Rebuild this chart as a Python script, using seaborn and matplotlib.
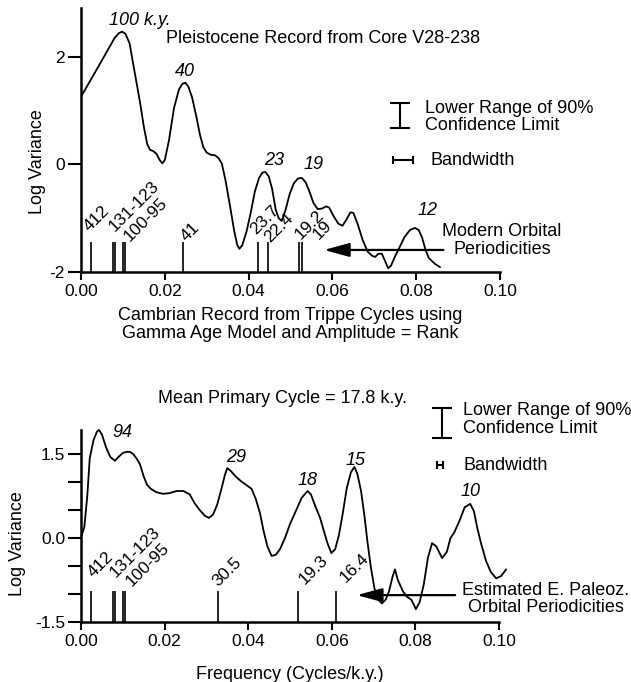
import numpy as np
import pandas as pd
import matplotlib
matplotlib.use("Agg")
import matplotlib.pyplot as plt
import seaborn as sns

# ---------------- data ----------------
# Pleistocene (Core V28-238) spectrum
pleist_freq = [0.0000, 0.0040, 0.0080, 0.0090, 0.0098, 0.0106, 0.0116, 0.0125, 0.0133, 0.0141,
               0.0150, 0.0158, 0.0165, 0.0172, 0.0180, 0.0188, 0.0194, 0.0200, 0.0210, 0.0222,
               0.0234, 0.0242, 0.0249, 0.0256, 0.0265, 0.0275, 0.0284, 0.0292, 0.0300, 0.0310,
               0.0320, 0.0328, 0.0336, 0.0345, 0.0356, 0.0366, 0.0373, 0.0378, 0.0385, 0.0395,
               0.0405, 0.0415, 0.0425, 0.0433, 0.0440, 0.0448, 0.0456, 0.0465, 0.0472, 0.0479,
               0.0488, 0.0498, 0.0508, 0.0518, 0.0527, 0.0536, 0.0545, 0.0555, 0.0565, 0.0575,
               0.0585, 0.0592, 0.0602, 0.0614, 0.0624, 0.0634, 0.0643, 0.0650, 0.0660, 0.0672,
               0.0684, 0.0695, 0.0702, 0.0710, 0.0718, 0.0726, 0.0733, 0.0740, 0.0750, 0.0761,
               0.0772, 0.0785, 0.0797, 0.0806, 0.0814, 0.0822, 0.0830, 0.0845, 0.0857]
pleist_logvar = [1.26, 1.80, 2.35, 2.44, 2.47, 2.43, 2.25, 1.85, 1.50, 1.15,
                 0.70, 0.38, 0.27, 0.25, 0.20, 0.08, 0.02, 0.08, 0.45, 1.05,
                 1.40, 1.50, 1.52, 1.45, 1.25, 0.90, 0.55, 0.32, 0.22, 0.18,
                 0.17, 0.12, 0.02, -0.30, -0.79, -1.25, -1.50, -1.57, -1.50, -1.25,
                 -0.90, -0.50, -0.25, -0.15, -0.14, -0.22, -0.45, -0.85, -1.00, -1.05,
                 -0.85, -0.55, -0.35, -0.26, -0.25, -0.33, -0.50, -0.72, -0.83, -0.82,
                 -0.78, -0.80, -0.95, -1.10, -1.14, -1.02, -0.89, -0.90, -1.10, -1.40,
                 -1.62, -1.70, -1.72, -1.66, -1.66, -1.80, -1.93, -1.88, -1.70, -1.53,
                 -1.35, -1.22, -1.18, -1.22, -1.36, -1.58, -1.74, -1.85, -1.91]

# Cambrian (Trippe cycles) spectrum
camb_freq = [0.0000, 0.0008, 0.0015, 0.0021, 0.0030, 0.0038, 0.0043, 0.0050, 0.0060, 0.0070,
             0.0081, 0.0090, 0.0100, 0.0110, 0.0117, 0.0125, 0.0133, 0.0141, 0.0150, 0.0158,
             0.0167, 0.0180, 0.0196, 0.0210, 0.0229, 0.0245, 0.0260, 0.0272, 0.0284, 0.0296,
             0.0306, 0.0316, 0.0326, 0.0336, 0.0344, 0.0350, 0.0358, 0.0370, 0.0382, 0.0395,
             0.0408, 0.0418, 0.0428, 0.0437, 0.0446, 0.0456, 0.0466, 0.0476, 0.0488, 0.0500,
             0.0515, 0.0528, 0.0542, 0.0550, 0.0560, 0.0572, 0.0582, 0.0590, 0.0599, 0.0608,
             0.0617, 0.0626, 0.0636, 0.0646, 0.0654, 0.0661, 0.0670, 0.0678, 0.0685, 0.0693,
             0.0702, 0.0711, 0.0720, 0.0729, 0.0737, 0.0745, 0.0751, 0.0758, 0.0770, 0.0780,
             0.0790, 0.0797, 0.0801, 0.0810, 0.0820, 0.0830, 0.0840, 0.0850, 0.0864, 0.0875,
             0.0884, 0.0893, 0.0905, 0.0918, 0.0931, 0.0940, 0.0948, 0.0958, 0.0969, 0.0980,
             0.0993, 0.1005, 0.1017]
camb_logvar = [0.00, 0.20, 0.75, 1.43, 1.75, 1.90, 1.93, 1.85, 1.62, 1.45,
               1.38, 1.45, 1.52, 1.54, 1.54, 1.50, 1.42, 1.32, 1.10, 0.95,
               0.88, 0.82, 0.79, 0.80, 0.84, 0.84, 0.78, 0.62, 0.50, 0.40,
               0.36, 0.42, 0.60, 0.88, 1.12, 1.25, 1.20, 1.10, 1.02, 0.95,
               0.88, 0.70, 0.45, 0.12, -0.15, -0.32, -0.30, -0.20, 0.00, 0.25,
               0.50, 0.72, 0.84, 0.78, 0.58, 0.36, 0.10, -0.10, -0.27, -0.20,
               0.05, 0.43, 0.90, 1.18, 1.27, 1.15, 0.84, 0.40, -0.05, -0.50,
               -0.90, -1.10, -1.17, -1.10, -0.95, -0.70, -0.56, -0.75, -0.95, -1.05,
               -1.10, -1.20, -1.27, -1.15, -0.83, -0.35, -0.09, -0.15, -0.36, -0.25,
               0.00, 0.10, 0.30, 0.55, 0.61, 0.48, 0.18, -0.12, -0.41, -0.60,
               -0.72, -0.68, -0.56]

# orbital periodicities (k.y.)
modern_periods = [412, 131, 123, 100, 95, 41, 23.7, 22.4, 19.2, 19]
modern_labels = ["412", "131-123", "100-95", "41", "23.7", "22.4", "19.2", "19"]
modern_label_x = [0.0026, 0.0086, 0.0120, 0.0258, 0.0422, 0.0457, 0.0530, 0.0572]
modern_label_y = [-1.30, -1.30, -1.48, -1.48, -1.35, -1.50, -1.45, -1.45]

paleoz_periods = [412, 131, 123, 100, 95, 30.5, 19.3, 16.4]
paleoz_labels = ["412", "131-123", "100-95", "30.5", "19.3", "16.4"]
paleoz_label_x = [0.0036, 0.0088, 0.0126, 0.0333, 0.0540, 0.0638]
paleoz_label_y = [-0.75, -0.75, -0.92, -0.92, -0.88, -0.85]

# peak period annotations
top_peak_labels = ["100 k.y.", "40", "23", "19", "12"]
top_peak_x = [0.0140, 0.0248, 0.0460, 0.0554, 0.0826]
top_peak_y = [2.68, 1.72, 0.07, 0.00, -0.86]

bot_peak_labels = ["94", "29", "18", "15", "10"]
bot_peak_x = [0.0100, 0.0371, 0.0543, 0.0656, 0.0931]
bot_peak_y = [1.88, 1.43, 1.02, 1.38, 0.84]

# ---------------- style ----------------
sns.set_theme(style="ticks")
plt.rcParams["font.family"] = ["Liberation Sans", "DejaVu Sans"]
plt.rcParams["axes.unicode_minus"] = False
FS = 13

fig = plt.figure(figsize=(6.31, 6.82), dpi=100)
W, H = 631, 682
ax1 = fig.add_axes([81 / W, (H - 272) / H, 419 / W, 264 / H])
ax2 = fig.add_axes([81 / W, (H - 622) / H, 418 / W, 192 / H])

df_top = pd.DataFrame({"freq": pleist_freq, "logvar": pleist_logvar})
df_bot = pd.DataFrame({"freq": camb_freq, "logvar": camb_logvar})

sns.lineplot(data=df_top, x="freq", y="logvar", ax=ax1, color="black", lw=1.3)
sns.lineplot(data=df_bot, x="freq", y="logvar", ax=ax2, color="black", lw=1.3)
for ln in ax2.get_lines():
    ln.set_clip_on(False)

for ax in (ax1, ax2):
    sns.despine(ax=ax)
    for s in ("left", "bottom"):
        ax.spines[s].set_linewidth(1.8)
        ax.spines[s].set_color("black")
    ax.set_xlim(0, 0.10)
    ax.set_xticks([0, 0.02, 0.04, 0.06, 0.08, 0.10])
    ax.set_xticklabels(["0.00", "0.02", "0.04", "0.06", "0.08", "0.10"])
    ax.tick_params(axis="x", direction="out", length=6, width=1.5, pad=3,
                   labelsize=12.5, color="black", labelcolor="black")
    ax.tick_params(axis="y", direction="out", length=9.5, width=1.5, pad=2,
                   labelsize=12.5, color="black", labelcolor="black")
    ax.set_ylabel("Log Variance", fontsize=FS, color="black")
    ax.yaxis.label.set_va("center")
    ax.grid(False)
    ax.set_facecolor("white")

# top axes
ax1.set_ylim(-2, 2.91)
ax1.set_yticks([-2, 0, 2])
ax1.set_yticklabels(["-2", "0", "2"])
ax1.yaxis.set_label_coords(-0.105, 0.417)
ax1.set_xlabel("Cambrian Record from Trippe Cycles using\nGamma Age Model and Amplitude = Rank",
               fontsize=FS, color="black", linespacing=1.05)
ax1.xaxis.label.set_va("center")
ax1.xaxis.set_label_coords(0.5, -0.20)

# bottom axes
ax2.set_ylim(-1.5, 1.93)
ax2.set_yticks([-1.5, -1.0, -0.5, 0.0, 0.5, 1.0, 1.5])
ax2.set_yticklabels(["-1.5", "", "", "0.0", "", "", "1.5"])
ax2.yaxis.set_label_coords(-0.153, 0.406)
ax2.set_xlabel("Frequency (Cycles/k.y.)", fontsize=FS, color="black")
ax2.xaxis.label.set_va("center")
ax2.xaxis.set_label_coords(0.5, -0.276)

# periodicity lines
modern_freq = [1.0 / p for p in modern_periods]
paleoz_freq = [1.0 / p for p in paleoz_periods]
ax1.vlines(modern_freq, -2, -1.44, color="black", lw=1.2)
ax2.vlines(paleoz_freq, -1.5, -0.95, color="black", lw=1.2)

for lab, x, y in zip(modern_labels, modern_label_x, modern_label_y):
    ax1.text(x, y, lab, rotation=45, rotation_mode="anchor", ha="left", va="bottom",
             fontsize=12.5, color="black")
for lab, x, y in zip(paleoz_labels, paleoz_label_x, paleoz_label_y):
    ax2.text(x, y, lab, rotation=45, rotation_mode="anchor", ha="left", va="bottom",
             fontsize=12.5, color="black", clip_on=False)

for lab, x, y in zip(top_peak_labels, top_peak_x, top_peak_y):
    ax1.text(x, y, lab, style="italic", ha="center", va="center", fontsize=FS, color="black",
             clip_on=False)
for lab, x, y in zip(bot_peak_labels, bot_peak_x, bot_peak_y):
    ax2.text(x, y, lab, style="italic", ha="center", va="center", fontsize=FS, color="black",
             clip_on=False)

# titles / annotations
ax1.text(0.0203, 2.35, "Pleistocene Record from Core V28-238", ha="left", va="center",
         fontsize=FS, color="black")
ax2.text(0.0481, 2.50, "Mean Primary Cycle = 17.8 k.y.", ha="center", va="center",
         fontsize=FS, color="black", clip_on=False)

arrow_kw = dict(arrowstyle="-|>,head_length=1.1,head_width=0.3", lw=1.6, color="black",
                mutation_scale=14, shrinkA=0, shrinkB=0)
ax1.annotate("", xy=(0.0580, -1.59), xytext=(0.0865, -1.59), arrowprops=arrow_kw)
ax1.text(0.1005, -1.42, "Modern Orbital\nPeriodicities", ha="center", va="center",
         fontsize=FS, color="black", linespacing=1.05, clip_on=False)
ax2.annotate("", xy=(0.0660, -1.02), xytext=(0.0895, -1.02), arrowprops=arrow_kw,
             annotation_clip=False)
ax2.text(0.1112, -1.09, "Estimated E. Paleoz.\nOrbital Periodicities", ha="center",
         va="center", fontsize=FS, color="black", linespacing=1.05, clip_on=False)

# legends (confidence bar + bandwidth)
conf_top = dict(x=0.0761, y0=0.68, y1=1.14, tx=0.0821, ty=0.88, bx0=0.0745, bx1=0.0792, by=0.08,
                btx=0.0833)
conf_bot = dict(x=0.0864, y0=1.79, y1=2.32, tx=0.0914, ty=2.12, bx0=0.0852, bx1=0.0866, by=1.30,
                btx=0.0914)
for ax, c in ((ax1, conf_top), (ax2, conf_bot)):
    ax.errorbar([c["x"]], [(c["y0"] + c["y1"]) / 2], yerr=[(c["y1"] - c["y0"]) / 2],
                fmt="none", ecolor="black", elinewidth=1.5, capsize=7, capthick=1.5,
                clip_on=False)
    ax.errorbar([(c["bx0"] + c["bx1"]) / 2], [c["by"]], xerr=[(c["bx1"] - c["bx0"]) / 2],
                fmt="none", ecolor="black", elinewidth=1.5, capsize=3, capthick=1.5,
                clip_on=False)
    ax.text(c["tx"], c["ty"], "Lower Range of 90%\nConfidence Limit", ha="left", va="center",
            fontsize=FS, color="black", linespacing=1.05, clip_on=False)
    ax.text(c["btx"], c["by"], "Bandwidth", ha="left", va="center", fontsize=FS,
            color="black", clip_on=False)

fig.savefig("out.png", dpi=100, facecolor="white")
